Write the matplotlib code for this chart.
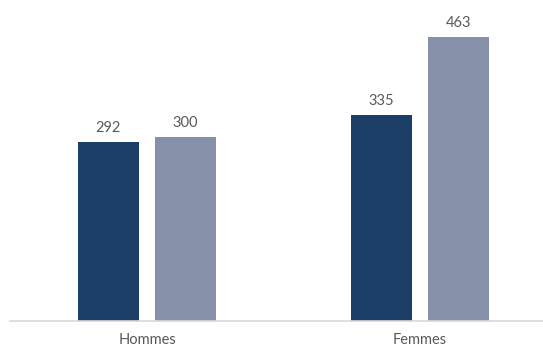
import matplotlib.pyplot as plt
import numpy as np

# Data
categories = ["Hommes", "Femmes"]
serie_1 = [292, 335]
serie_2 = [300, 463]

dark = "#1c3f6a"
light = "#8690a8"
text_gray = "#595959"

fig = plt.figure(figsize=(5.43, 3.49), dpi=100)
ax = fig.add_axes([10 / 543, 28 / 349, 533 / 543, 321 / 349])

x = np.arange(len(categories))
w = 0.2234
off = 0.141
b1 = ax.bar(x - off, serie_1, width=w, color=dark)
b2 = ax.bar(x + off, serie_2, width=w, color=light)

# Value labels above bars
for bars in (b1, b2):
    for rect in bars:
        h = rect.get_height()
        ax.annotate(str(int(h)), (rect.get_x() + rect.get_width() / 2, h),
                    xytext=(0, 5), textcoords="offset points",
                    ha="center", va="bottom", fontsize=10.5,
                    color=text_gray, family="Lato")

ax.set_xlim(-137 / 273, 396 / 273)
ax.set_ylim(0, 523)
ax.set_xticks(x)
ax.set_xticklabels(categories, fontsize=10.5, color=text_gray, family="Lato")
ax.tick_params(axis="x", length=0, pad=9)
ax.set_yticks([])
for s in ["top", "right", "left"]:
    ax.spines[s].set_visible(False)
ax.spines["bottom"].set_color("#d9d9d9")
ax.spines["bottom"].set_linewidth(1.2)

fig.savefig("out.png", dpi=100)
